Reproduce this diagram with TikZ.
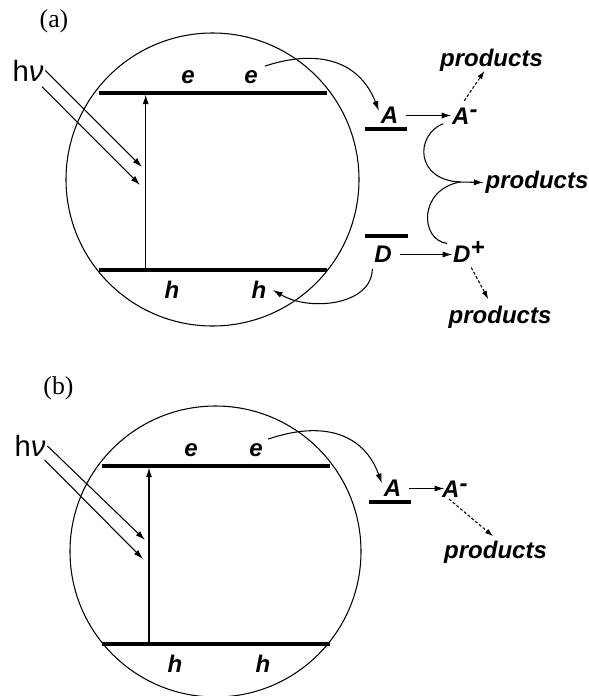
\documentclass[tikz,border=0pt]{standalone}
\usepackage{fontspec}
\setmainfont{Liberation Serif}
\newfontfamily\arialfont{Liberation Sans}
\usetikzlibrary{arrows.meta}
\tikzset{
  thinarr/.style={-{Latex[length=2.9mm,width=1.8mm]},line width=0.9pt},
  dasharr/.style={thinarr,-{Latex[length=2.5mm,width=1.6mm]},dash pattern=on 2.5pt off 1.7pt},
  thinline/.style={line width=0.9pt},
  ring/.style={line width=0.9pt},
  levelbar/.style={line width=2.6pt},
  lbl/.style={font=\fontsize{20.5}{24}\selectfont\arialfont\bfseries\itshape,inner sep=1.5pt},
  photon/.style={font=\fontsize{25}{28}\selectfont\arialfont,inner sep=1.5pt},
  panel/.style={font=\fontsize{22}{24}\selectfont,inner sep=1pt}
}

\begin{document}
\begin{tikzpicture}[x=0.03cm,y=-0.03cm,>=Latex]
  \useasboundingbox (0,0) rectangle (589,696);

  % ---- panel (a) ----
  \node[panel] (pana) at (54,21.5) {(a)};
  \draw[ring] (212.5,179.5) circle (146.5);
  \draw[levelbar] (99,93) -- (327,93);
  \draw[levelbar] (99,270) -- (327,270);
  \draw[thinarr] (145.7,270) -- (145.7,94.5);
  \node[lbl] (e1a) at (188,77) {e};
  \node[lbl] (e2a) at (251,77) {e};
  \node[lbl] (h1a) at (172,290) {h};
  \node[lbl] (h2a) at (259,290) {h};
  \node[photon] (hva) at (28,70.5) {h{\itshape ν}};
  \coordinate (hvaend1) at (142,167);
  \coordinate (hvaend2) at (140,185);
  \draw[thinarr] (hva.east) -- (hvaend1);
  \draw[thinarr] ([shift={(-3pt,-3pt)}]hva.south east) -- (hvaend2);

  \node[lbl] (Aa) at (389.5,115.5) {A};
  \draw[levelbar] (365,129) -- (407,129);
  \node[lbl,anchor=base west] (Ama) at (450.2,124) {A\raisebox{0.25em}{-}};
  \node[lbl] (Da) at (383,254.5) {D};
  \draw[levelbar] (365,236) -- (408,236);
  \node[lbl,anchor=base west] (Dpa) at (451.2,262) {D\raisebox{0.25em}{+}};
  \node[lbl] (pta) at (491.5,60) {products};
  \node[lbl] (pma) at (537,182.5) {products};
  \node[lbl] (pba) at (500,317) {products};
  \coordinate (join) at (460,182);

  \draw[thinarr] ([shift={(4.5pt,2pt)}]e2a.north east)
    .. controls (320,48) and (360,62) .. ([yshift=4pt]Aa.west);
  \draw[thinarr,shorten >=4pt] ([xshift=5pt]Aa.east) -- ([xshift=5pt]Aa.east -| Ama.west);
  \draw[thinarr,shorten >=4pt] ([xshift=5pt]Da.east) -- ([xshift=5pt]Da.east -| Dpa.west);
  \draw[dasharr] ([shift={(12pt,4pt)}]Ama.north west) -- ([shift={(-6pt,2pt)}]pta.south);
  \draw[dasharr] ([shift={(2pt,-3pt)}]Dpa.south) -- ([shift={(-10pt,4pt)}]pba.north);
  \draw[thinarr] ([shift={(-6pt,2pt)}]Ama.south west)
    .. controls (415,135) and (415,180) .. (join) -- (pma.west);
  \draw[thinline] ([shift={(-3.5pt,-3pt)}]Dpa.north west)
    .. controls (420,240) and (418,190) .. (join);
  \draw[thinarr] ([yshift=-3.5pt]Da.south west)
    .. controls (372,305) and (310,312) .. ([xshift=4pt]h2a.east);

  % ---- panel (b) ----
  \node[panel] (panb) at (58.5,388.5) {(b)};
  \draw[ring] (215.5,551.5) circle (145.5);
  \draw[levelbar] (102,466) -- (330,466);
  \draw[levelbar] (102,644) -- (330,644);
  \draw[thinarr] (149,644) -- (149,467.5);
  \node[lbl] (e1b) at (191,450) {e};
  \node[lbl] (e2b) at (256,450) {e};
  \node[lbl] (h1b) at (175,664) {h};
  \node[lbl] (h2b) at (263,664) {h};
  \node[photon] (hvb) at (30,446) {h{\itshape ν}};
  \coordinate (hvbend1) at (145,540);
  \coordinate (hvbend2) at (143,559);
  \draw[thinarr] (hvb.east) -- (hvbend1);
  \draw[thinarr] ([shift={(-2.5pt,-1pt)}]hvb.south east) -- (hvbend2);

  \node[lbl] (Ab) at (392.5,488.5) {A};
  \draw[levelbar] (369,502) -- (411,502);
  \node[lbl,anchor=base west] (Amb) at (440.2,497) {A\raisebox{0.25em}{-}};
  \node[lbl] (pb) at (495.5,552.5) {products};

  \draw[thinarr] ([shift={(3pt,2pt)}]e2b.north east)
    .. controls (324,420) and (364,434) .. ([yshift=4.5pt]Ab.west);
  \draw[thinarr,shorten >=1.5pt] ([xshift=5pt]Ab.east) -- ([xshift=5pt]Ab.east -| Amb.west);
  \draw[dasharr] ([xshift=7.5pt]Amb.south west) -- ([shift={(-2pt,2.5pt)}]pb.north);
\end{tikzpicture}
\end{document}
